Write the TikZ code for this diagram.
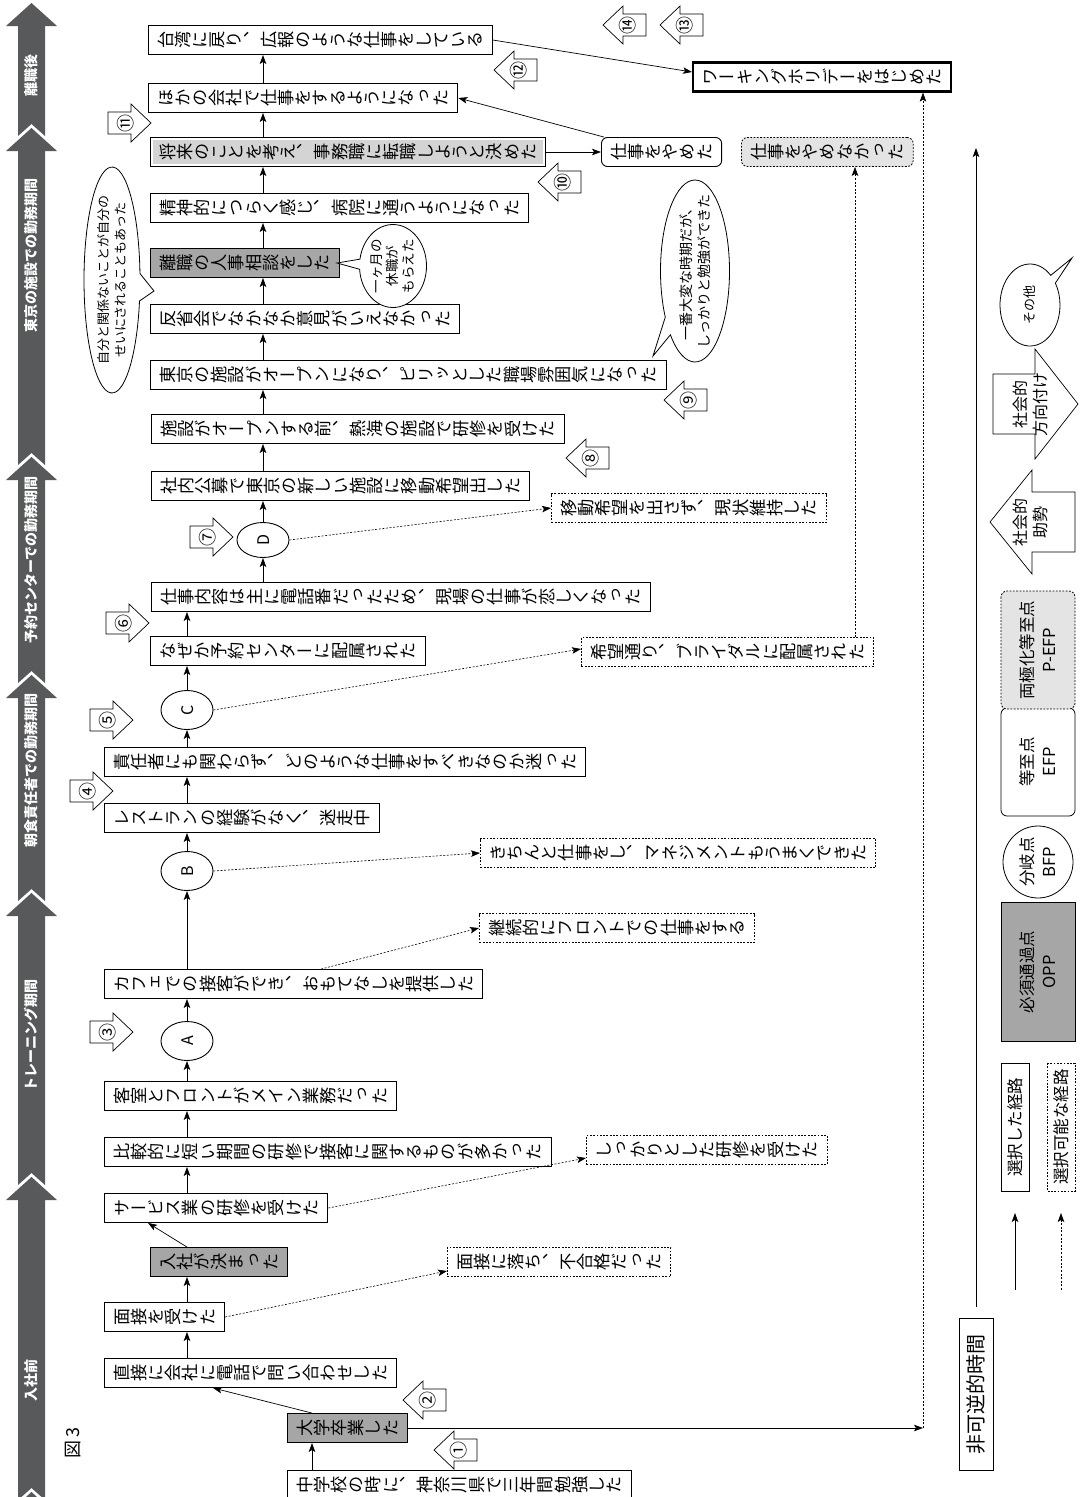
\documentclass[tikz,border=0pt]{standalone}
\usepackage{fontspec}
\usepackage{graphicx}
\usetikzlibrary{arrows.meta,shapes.geometric,shapes.callouts,calc}
\newfontfamily\vjp[Vertical=RotatedGlyphs]{Noto Sans CJK JP}
\newfontfamily\hjp{Noto Sans CJK JP}
\definecolor{bandc}{HTML}{58595B}
\definecolor{oppc}{HTML}{A6A6A6}
\definecolor{lightc}{HTML}{D4D4D4}
\definecolor{pefpc}{HTML}{E4E4E4}
\makeatletter
\def\tate@end{\tate@end}
\newcommand\tate[1]{\vbox{\offinterlineskip\tate@i#1\tate@end}}
\def\tate@i#1{\ifx\tate@end#1\else\hbox to 1em{\hss\vrule height .88em depth .12em width 0pt\relax#1\hss}\expandafter\tate@i\fi}
\makeatother
\newcommand\tv[1]{\rotatebox{90}{\tate{#1}}}
\newcommand\sdblk[4]{%
 \draw[blk] (#2,#3-11) -- (#2+23,#3-11) -- (#2+23,#3-19) -- (#2+43,#3) -- (#2+23,#3+19) -- (#2+23,#3+11) -- (#2,#3+11) -- cycle;
 \node[num] (#1) at (#2+18,#3) {\tv{#4}};}
\newcommand\sgblk[4]{%
 \draw[blk] (#2+43,#3-11) -- (#2+20,#3-11) -- (#2+20,#3-19) -- (#2,#3) -- (#2+20,#3+19) -- (#2+20,#3+11) -- (#2+43,#3+11) -- cycle;
 \node[num] (#1) at (#2+25,#3) {\tv{#4}};}
\newcommand\bandseg[2]{%
 \fill[bandc] (31.5,#1) -- (57,#1+23) -- (45,#1+23) -- (45,#2) -- (31.5,#2-12) -- (18,#2) -- (18,#1+23) -- (6,#1+23) -- cycle;}
\begin{document}
\begin{tikzpicture}[x=1pt,y=-1pt,
 bx/.style={draw, line width=0.9pt, fill=white, anchor=west, inner xsep=8.5pt, inner ysep=0pt, minimum height=29pt, font=\vjp\fontsize{17.2}{17.2}\selectfont},
 oppbx/.style={bx, fill=oppc},
 dbx/.style={bx, dash pattern=on 1.8pt off 1.5pt, line width=0.8pt},
 efpbx/.style={bx, rounded corners=6pt},
 pefpbx/.style={dbx, rounded corners=6pt, fill=pefpc},
 wbx/.style={bx, line width=2.2pt},
 shbx/.style={bx, path picture={\fill[lightc] ([xshift=2.5pt,yshift=-2.5pt]path picture bounding box.north west) rectangle ([xshift=-2.5pt,yshift=2.5pt]path picture bounding box.south east);}},
 bfp/.style={ellipse, draw, line width=0.9pt, fill=white, minimum width=52pt, minimum height=39pt, inner sep=0pt, font=\vjp\fontsize{16}{16}\selectfont},
 blk/.style={draw, fill=white, line width=0.7pt, line join=miter},
 num/.style={inner sep=0pt, font=\vjp\fontsize{18}{18}\selectfont},
 arr/.style={-{Stealth[length=9pt,width=6.5pt,inset=2pt]}, line width=0.7pt},
 dotarr/.style={arr, dash pattern=on 2pt off 1.6pt, line width=0.6pt},
 bubshape/.style={ellipse callout, draw, fill=white, line width=0.8pt, inner sep=0pt, callout pointer arc=14},
 bubtext/.style={rotate=90, align=center, inner sep=0pt, font=\hjp\fontsize{13.5}{16}\selectfont},
 bandlab/.style={rotate=90, text=white, inner sep=0pt, font=\hjp\bfseries\fontsize{14}{14}\selectfont},
 leg/.style={rotate=90, draw, line width=0.8pt, inner sep=0pt, align=center, font=\hjp\fontsize{16.5}{22}\selectfont}
]
\useasboundingbox (0,0) rectangle (1083,1497);
% ---------- time band ----------
\bandseg{3}{136}
\bandseg{128}{465}
\bandseg{457}{683}
\bandseg{675}{901}
\bandseg{893}{1185}
\bandseg{1177}{1500}
\bandseg{1492}{1600}
\node[bandlab] (b1) at (31.5,75) {離職後};
\node[bandlab] (b2) at (31.5,255) {東京の施設での勤務期間};
\node[bandlab] (b3) at (31.5,560) {予約センターでの勤務期間};
\node[bandlab] (b4) at (31.5,770) {朝食責任者での勤務期間};
\node[bandlab] (b5) at (31.5,1035) {トレーニング期間};
\node[bandlab] (b6) at (31.5,1380) {入社前};
\node[rotate=90, inner sep=0pt, font=\hjp\fontsize{18}{18}\selectfont] (fig) at (73,1443) {図\,3};
% ---------- columns ----------
\coordinate (colA) at (187,0);
\coordinate (colB) at (263,0);
\coordinate (colC) at (312,0);
\coordinate (colD) at (148,0);
\coordinate (colE) at (855,0);
\coordinate (colF) at (213,0);
\coordinate (colG) at (321,0);
\coordinate (turn) at (923,0);
% ---------- nodes ----------
\node[bx] (chu) at (287,1485) {\tv{中学校の時に、神奈川県で三年間勉強した}};
\node[oppbx] (daigaku) at (287,1428) {\tv{大学卒業した}};
\node[bx] (choku) at (104,1373) {\tv{直接に会社に電話で問い合わせした}};
\node[bx] (mensetsu) at (104,1317) {\tv{面接を受けた}};
\node[oppbx] (nyusha) at (150,1262) {\tv{入社が決まった}};
\node[dbx] (ochi) at (447,1262) {\tv{面接に落ち、不合格だった}};
\node[bx] (service) at (104,1208) {\tv{サービス業の研修を受けた}};
\node[dbx] (shikkari) at (586,1150) {\tv{しっかりとした研修を受けた}};
\node[bx] (hikaku) at (104,1152) {\tv{比較的に短い期間の研修で接客に関するものが多かった}};
\node[bx] (kyaku) at (104,1096) {\tv{客室とフロントがメイン業務だった}};
\node[bfp] (A) at (187,1041) {\tv{A}};
\node[bx] (cafe) at (104,984) {\tv{カフェでの接客ができ、おもてなしを提供した}};
\node[dbx] (keizoku) at (479,928) {\tv{継続的にフロントでの仕事をする}};
\node[bfp] (B) at (187,871) {\tv{B}};
\node[dbx] (kichinto) at (480,853) {\tv{きちんと仕事をし、マネジメントもうまくできた}};
\node[bx] (resto) at (104,818) {\tv{レストランの経験がなく、迷走中}};
\node[bx] (sekinin) at (104,762) {\tv{責任者にも関わらず、どのような仕事をすべきなのか迷った}};
\node[bfp] (C) at (187,710) {\tv{C}};
\node[dbx] (kibou) at (581,652) {\tv{希望通り、ブライダルに配属された}};
\node[bx] (naze) at (150,651) {\tv{なぜか予約センターに配属された}};
\node[bx] (naiyo) at (151,597) {\tv{仕事内容は主に電話番だったため、現場の仕事が恋しくなった}};
\node[bfp, minimum height=35pt] (D) at (263,540) {\tv{D}};
\node[dbx] (genjo) at (551,508) {\tv{移動希望を出さず、現状維持した}};
\node[bx] (shanai) at (151,486) {\tv{社内公募で東京の新しい施設に移動希望出した}};
\node[bx] (atami) at (151,429) {\tv{施設がオープンする前、熱海の施設で研修を受けた}};
\node[bx] (tokyo) at (150,375) {\tv{東京の施設がオープンになり、ピリッとした職場雰囲気になった}};
\node[bx] (hansei) at (150,319) {\tv{反省会でなかなか意見がいえなかった}};
\node[oppbx] (rishoku) at (150,263) {\tv{離職の人事相談をした}};
\node[bx] (seishin) at (150,208) {\tv{精神的につらく感じ、病院に通うようになった}};
\node[shbx] (shorai) at (150,152) {\tv{将来のことを考え、事務職に転職しようと決めた}};
\node[efpbx] (yameta) at (601,152) {\tv{仕事をやめた}};
\node[pefpbx] (yamenai) at (741,152) {\tv{仕事をやめなかった}};
\node[bx] (hoka) at (148,98) {\tv{ほかの会社で仕事をするようになった}};
\node[bx] (taiwan) at (148,40) {\tv{台湾に戻り、広報のような仕事をしている}};
\node[wbx] (working) at (692,77) {\tv{ワーキングホリデーをはじめた}};
% ---------- bubbles ----------
\node[bubshape, minimum width=67pt, minimum height=83pt, callout absolute pointer={(337,263)}] (bub1) at (393,266) {};
\node[bubtext] (bub1t) at (bub1) {一ヶ月の\\休職が\\もらえた};
\node[bubshape, minimum width=69pt, minimum height=182pt, callout absolute pointer={(653,356)}] (bub2) at (695,271) {};
\node[bubtext, font=\hjp\fontsize{14}{18}\selectfont] (bub2t) at (bub2) {一番大変な時期だが、\\しっかりと勉強ができた};
\node[bubshape, minimum width=56pt, minimum height=226pt, callout absolute pointer={(154,291)}] (bub3) at (112,280) {};
\node[bubtext, font=\hjp\fontsize{13}{17}\selectfont] (bub3t) at (bub3) {自分と関係ないことが自分の\\せいにされることもあった};
% ---------- block arrows ----------
\sdblk{s3}{90}{1032}{③}
\sdblk{s4}{70}{791}{④}
\sdblk{s5}{90}{720}{⑤}
\sdblk{s6}{106}{623}{⑥}
\sdblk{s7}{190}{537}{⑦}
\sdblk{s11}{108}{123}{⑪}
\sgblk{g1}{434}{1450}{①}
\sgblk{g2}{403}{1400}{②}
\sgblk{g8}{566}{458}{⑧}
\sgblk{g9}{664}{400}{⑨}
\sgblk{g10}{538}{182}{⑩}
\sgblk{g12}{494}{70}{⑫}
\sgblk{g14}{603}{25}{⑭}
\sgblk{g13}{660}{25}{⑬}
% ---------- connectors ----------
\draw[arr] (colC |- chu.north) -- (colC |- daigaku.south);
\draw[arr] (colC |- daigaku.north) -- (colF |- choku.south);
\draw[arr] (colA |- choku.north) -- (colA |- mensetsu.south);
\draw[arr] (colA |- mensetsu.north) -- (colA |- nyusha.south);
\draw[dotarr] (mensetsu.east) -- ([yshift=-9pt]ochi.west);
\draw[arr] (colA |- nyusha.north) -- (colD |- service.south);
\draw[dotarr] (service.east) -- ([yshift=-8pt]shikkari.west);
\draw[arr] (colA |- service.north) -- (colA |- hikaku.south);
\draw[arr] (colA |- hikaku.north) -- (colA |- kyaku.south);
\draw[arr] (colA |- kyaku.north) -- (A.south);
\draw[arr] (A.north) -- (colA |- cafe.south);
\draw[dotarr] (colG |- cafe.north) -- (keizoku.west);
\draw[arr] (colA |- cafe.north) -- (B.south);
\draw[dotarr] (B.east) -- (kichinto.west);
\draw[arr] (B.north) -- (colA |- resto.south);
\draw[arr] (colA |- resto.north) -- (colA |- sekinin.south);
\draw[arr] (colA |- sekinin.north) -- (C.south);
\draw[dotarr] (C.east) -- ([yshift=3pt]kibou.west);
\draw[arr] (C.north) -- (colA |- naze.south);
\draw[arr] (colA |- naze.north) -- (colA |- naiyo.south);
\draw[arr] (colB |- naiyo.north) -- (D.south);
\draw[dotarr] (D.east) -- (genjo.west);
\draw[arr] (D.north) -- (colB |- shanai.south);
\draw[arr] (colB |- shanai.north) -- (colB |- atami.south);
\draw[arr] (colB |- atami.north) -- (colB |- tokyo.south);
\draw[arr] (colB |- tokyo.north) -- (colB |- hansei.south);
\draw[arr] (colB |- hansei.north) -- (colB |- rishoku.south);
\draw[arr] (colB |- rishoku.north) -- (colB |- seishin.south);
\draw[arr] (colB |- seishin.north) -- (colB |- shorai.south);
\draw[arr] (colB |- shorai.north) -- (colB |- hoka.south);
\draw[arr] (colB |- hoka.north) -- (colB |- taiwan.south);
\draw[arr] (shorai.east) -- (yameta.west);
\draw[arr] ([xshift=3pt]yameta.north west) -- (hoka.east);
\draw[arr] (taiwan.east) -- ([yshift=5pt]working.west);
\draw[dotarr] (colE |- kibou.north) -- (colE |- yamenai.south);
\draw[arr] (daigaku.east) -- (turn |- daigaku.east);
\draw[dotarr] (turn |- daigaku.east) -- (turn |- working.south);
% ---------- time axis & legend ----------
\coordinate (timeB) at (976,1307);
\coordinate (timeT) at (976,148);
\draw[arr] (timeB) -- (timeT);
\node[leg, minimum width=152pt, minimum height=34pt, font=\hjp\fontsize{20}{20}\selectfont] (time) at (976,1394) {非可逆的時間};
\coordinate (lsB) at (1015,1290);
\coordinate (lsT) at (1015,1213);
\coordinate (ldB) at (1061,1290);
\coordinate (ldT) at (1061,1213);
\draw[arr] (lsB) -- (lsT);
\draw[dotarr] (ldB) -- (ldT);
\node[leg, minimum width=128pt, minimum height=28pt] (legsel) at (1015,1127) {選択した経路};
\node[leg, minimum width=128pt, minimum height=28pt, dash pattern=on 1.8pt off 1.5pt] (legpos) at (1061,1127) {選択可能な経路};
\node[leg, minimum width=139pt, minimum height=74pt, fill=oppc] (legopp) at (1038,972) {必須通過点\\OPP};
\node[leg, ellipse, minimum width=72pt, minimum height=70pt] (legbfp) at (1038,862) {分岐点\\BFP};
\node[leg, rounded corners=6pt, minimum width=108pt, minimum height=74pt] (legefp) at (1038,762) {等至点\\EFP};
\node[leg, rounded corners=6pt, minimum width=118pt, minimum height=74pt, fill=pefpc, dash pattern=on 1.8pt off 1.5pt] (legpefp) at (1038,650) {両極化等至点\\P-EFP};
\draw[blk] (1075,492) -- (1032,492) -- (1032,470) -- (990,522) -- (1032,574) -- (1032,552) -- (1075,552) -- cycle;
\node[rotate=90, align=center, inner sep=0pt, font=\hjp\fontsize{16}{20}\selectfont] (legsg) at (1030,522) {社会的\\助勢};
\draw[blk] (993,374) -- (1035,374) -- (1035,349) -- (1078,404) -- (1035,459) -- (1035,434) -- (993,434) -- cycle;
\node[rotate=90, align=center, inner sep=0pt, font=\hjp\fontsize{16}{20}\selectfont] (legsd) at (1030,404) {社会的\\方向付け};
\node[bubshape, minimum width=60pt, minimum height=82pt, callout absolute pointer={(1072,258)}] (legoth) at (1030,305) {};
\node[bubtext, font=\hjp\fontsize{13}{13}\selectfont] (legotht) at (legoth) {その他};
\end{tikzpicture}
\end{document}
